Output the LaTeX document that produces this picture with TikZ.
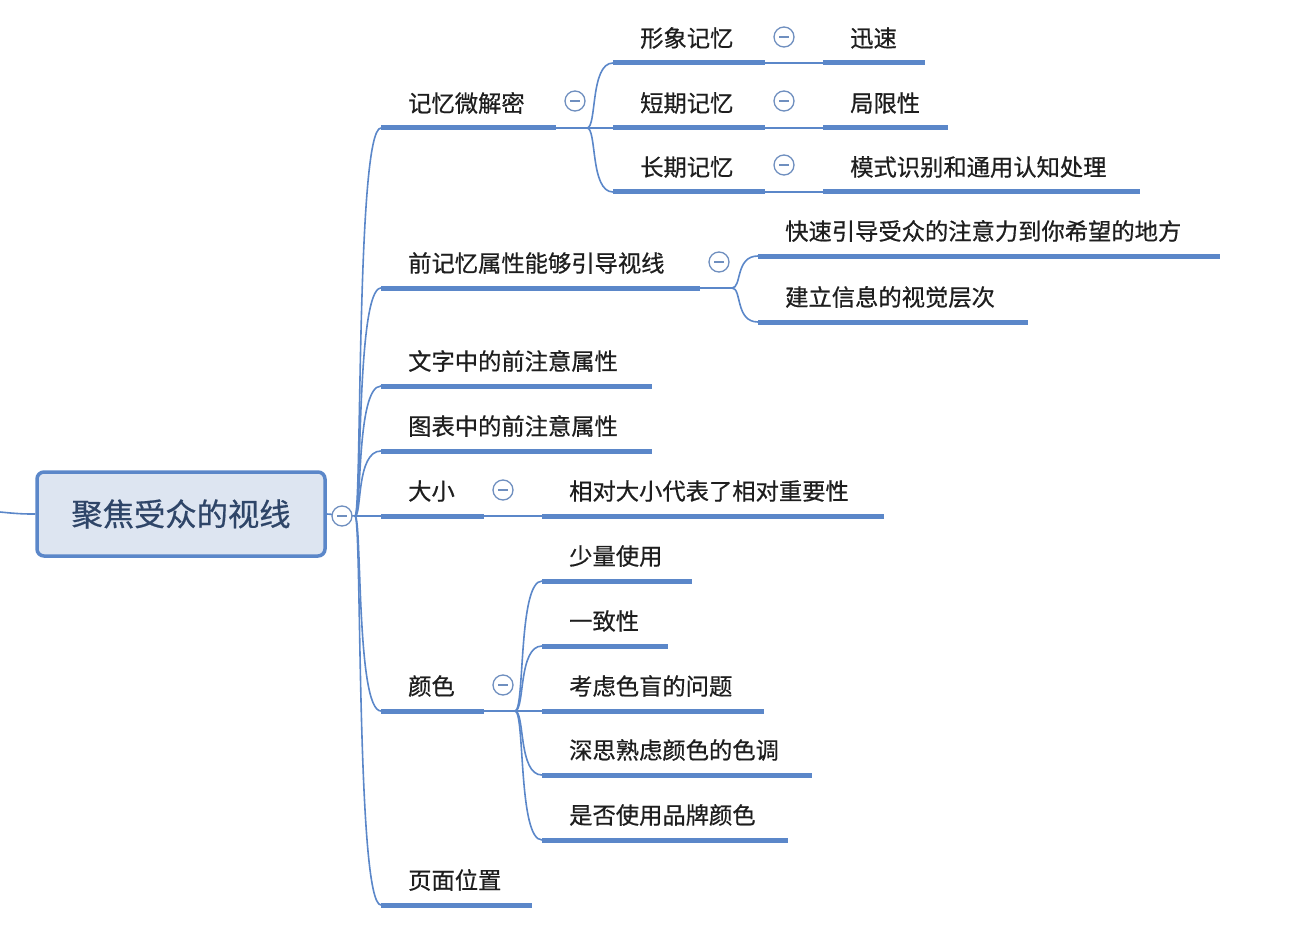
\documentclass[tikz,border=0pt]{standalone}
\usepackage{fontspec}
\newfontfamily\cjk[FakeBold=0.6]{Noto Sans CJK SC}
\definecolor{ln}{HTML}{5B87C9}
\definecolor{rootfill}{HTML}{DDE5F1}
\definecolor{rtxt}{HTML}{2E4568}
\definecolor{txt}{HTML}{1E1E1E}
\definecolor{cir}{HTML}{6F8FBF}
\tikzset{
  conn/.style={ln,line width=1.6pt},
  barline/.style={ln,line width=5pt},
  lbl/.style={anchor=west,inner sep=0,font=\cjk\fontsize{23.3}{25}\selectfont,text=txt},
  fold/.style={circle,draw=cir,line width=1.3pt,minimum size=20pt,inner sep=0,fill=white,
    path picture={\draw[cir,line width=1.3pt] ([xshift=-5pt]path picture bounding box.center)--([xshift=5pt]path picture bounding box.center);}},
}
% #1 name, #2 x1, #3 x2, #4 y, #5 text
\newcommand\topic[5]{%
  \draw[barline] (#2,#4) coordinate (#1L) -- (#3,#4) coordinate (#1R);
  \node[lbl] (#1) at (#2+27,#4-25) {#5};}
\begin{document}
\begin{tikzpicture}[x=1pt,y=-1pt]
\useasboundingbox (0,0) rectangle (1300,928);
% root
\node[draw=ln,line width=3.5pt,fill=rootfill,rounded corners=7pt,minimum width=288pt,minimum height=84pt,
  font=\cjk\fontsize{31.3}{33}\selectfont,text=rtxt] (root) at (181,514) {聚焦受众的视线};
\coordinate (west) at (0,512);
\draw[conn] (west) .. controls (20,514) and (25,514) .. (root.west);
\coordinate (rh) at (355,516);
\draw[conn] (root.east) -- (rh);
% level 1
\topic{a}{381}{556}{128}{记忆微解密}
\topic{b}{381}{700}{288}{前记忆属性能够引导视线}
\topic{c}{381}{652}{386}{文字中的前注意属性}
\topic{d}{381}{652}{451}{图表中的前注意属性}
\topic{e}{381}{484}{516}{大小}
\topic{f}{381}{484}{711}{颜色}
\topic{g}{381}{532}{905}{页面位置}
\foreach \n in {a,b,c,d,e,f,g}{
  \draw[conn] (rh) .. controls (362,516) and (356,0|-\n L) .. (\n L);}
\node[fold] (rf) at (342,516) {};
% 记忆微解密
\coordinate (ah) at (587,128);
\draw[conn] (aR) -- (ah);
\topic{a1}{613}{765}{63}{形象记忆}
\topic{a2}{613}{765}{128}{短期记忆}
\topic{a3}{613}{765}{192}{长期记忆}
\foreach \n in {a1,a2,a3}{\draw[conn] (ah) .. controls (597,128) and (590,0|-\n L) .. (\n L);}
\node[fold] (af) at (575,101) {};
\topic{a1x}{823}{925}{63}{迅速}
\topic{a2x}{823}{948}{128}{局限性}
\topic{a3x}{823}{1140}{192}{模式识别和通用认知处理}
\foreach \n in {a1,a2,a3}{\draw[conn] (\n R) -- (\n xL);}
\node[fold] (a1f) at (784,37) {};
\node[fold] (a2f) at (784,101) {};
\node[fold] (a3f) at (784,165) {};
% 前记忆
\coordinate (bh) at (732,288);
\draw[conn] (bR) -- (bh);
\topic{b1}{758}{1220}{256}{快速引导受众的注意力到你希望的地方}
\topic{b2}{758}{1028}{322}{建立信息的视觉层次}
\foreach \n in {b1,b2}{\draw[conn] (bh) .. controls (742,288) and (735,0|-\n L) .. (\n L);}
\node[fold] (bf) at (719,262) {};
% 大小
\topic{e1}{542}{884}{516}{相对大小代表了相对重要性}
\draw[conn] (eR) -- (e1L);
\node[fold] (ef) at (503,490) {};
% 颜色
\coordinate (fh) at (515,711);
\draw[conn] (fR) -- (fh);
\topic{f1}{542}{692}{581}{少量使用}
\topic{f2}{542}{668}{646}{一致性}
\topic{f3}{542}{764}{711}{考虑色盲的问题}
\topic{f4}{542}{812}{775}{深思熟虑颜色的色调}
\topic{f5}{542}{788}{840}{是否使用品牌颜色}
\foreach \n in {f1,f2,f3,f4,f5}{\draw[conn] (fh) .. controls (525,711) and (518,0|-\n L) .. (\n L);}
\node[fold] (ff) at (503,685) {};
\end{tikzpicture}
\end{document}
